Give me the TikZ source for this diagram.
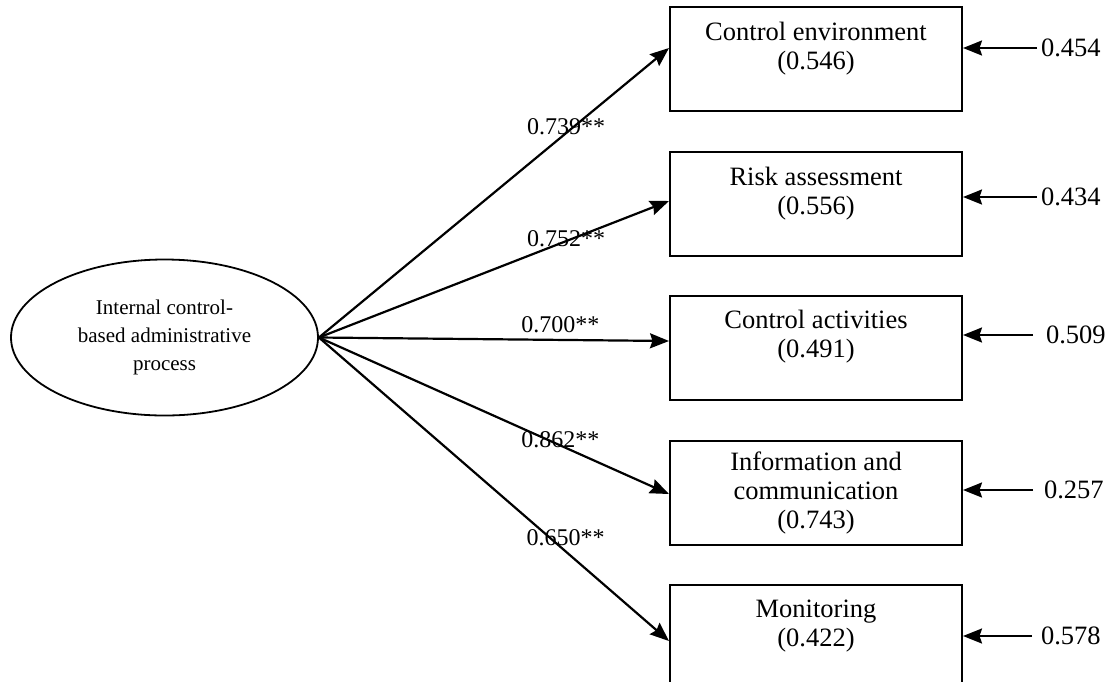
\documentclass[tikz,border=0pt]{standalone}
\usepackage{fontspec}
\setmainfont{Liberation Serif}
\usetikzlibrary{arrows.meta,positioning,shapes.geometric}

\begin{document}
\begin{tikzpicture}[x=1pt, y=-1pt, >={Stealth[length=19pt,width=15pt,inset=2.5pt]}, line width=2.2pt, node distance=38.5pt]
\tikzstyle{factor}=[draw, ellipse, line width=1.8pt, minimum width=307pt, minimum height=156pt, inner sep=0pt, align=center, font=\fontsize{21}{28}\selectfont]
\tikzstyle{item}=[draw, rectangle, line width=2pt, minimum width=292pt, minimum height=104pt, inner sep=0pt]
\tikzstyle{inbox}=[align=center, font=\fontsize{26.5}{29}\selectfont]
\tikzstyle{wt}=[inner sep=0pt, font=\fontsize{24}{26}\selectfont]
\tikzstyle{err}=[anchor=west, inner ysep=0pt, font=\fontsize{26.5}{28}\selectfont]
\useasboundingbox (0,0) rectangle (1107,681);
% latent factor and its indicators
\node[factor]  (F)  at (164.5,337.5)  {Internal control-\\based administrative\\process};
\node[item]    (CE) at (816,59)  [label={[inbox,yshift=10pt]center:{Control environment\\(0.546)}}] {};
\node[item]    (RA) [below=of CE] [label={[inbox,yshift=10pt]center:{Risk assessment\\(0.556)}}] {};
\node[item]    (CA) [below=of RA] [label={[inbox,yshift=11pt]center:{Control activities\\(0.491)}}] {};
\node[item]    (IC) [below=of CA] [label={[inbox]center:{Information and\\communication\\(0.743)}}] {};
\node[item]    (MO) [below=of IC] [label={[inbox,yshift=11pt]center:{Monitoring\\(0.422)}}] {};
% error terms
\node[err, inner xsep=3pt]  (E1) at (1037,48)  {0.454};
\node[err, inner xsep=3pt]  (E2) at (1037,197) {0.434};
\node[err, inner xsep=12pt] (E3) at (1033,335) {0.509};
\node[err, inner xsep=10pt] (E4) at (1033,490) {0.257};
\node[err, inner xsep=8pt]  (E5) at (1032,636) {0.578};
% loadings
\path[->]
(F.east) edge node[wt, pos=0.706, yshift=6pt]  {0.739**} ([yshift=11pt]CE.west)
         edge node[wt, pos=0.706, yshift=2pt]  {0.752**} ([yshift=2.5pt]RA.west)
         edge node[wt, pos=0.69,  yshift=15pt] {0.700**} ([yshift=7pt]CA.west)
         edge node[wt, pos=0.69,  yshift=6pt]  {0.862**} ([yshift=-1.5pt]IC.west)
         edge node[wt, pos=0.705, yshift=14pt] {0.650**} ([yshift=-4pt]MO.west);
\draw[->] (E1.west) -- (E1.west -| CE.east);
\draw[->] (E2.west) -- (E2.west -| RA.east);
\draw[->] (E3.west) -- (E3.west -| CA.east);
\draw[->] (E4.west) -- (E4.west -| IC.east);
\draw[->] (E5.west) -- (E5.west -| MO.east);
\end{tikzpicture}
\end{document}
